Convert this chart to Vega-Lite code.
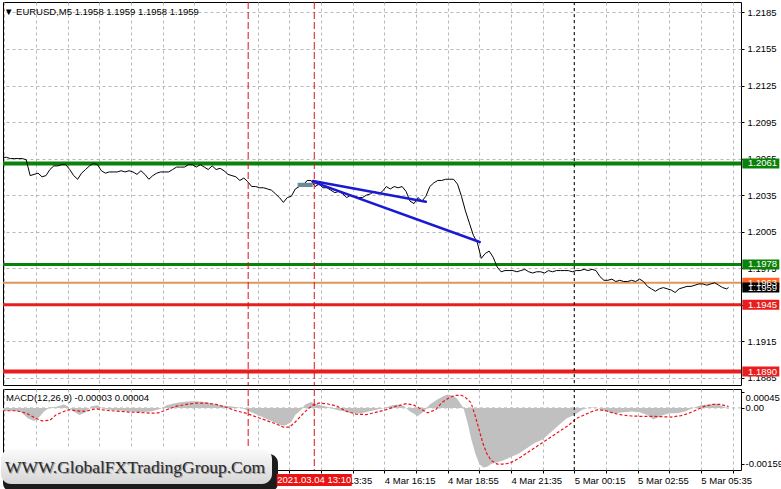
{
  "$schema": "https://vega.github.io/schema/vega-lite/v6.json",
  "padding": {"left": 0, "top": 1, "right": 0, "bottom": 0},
  "background": "white",
  "spacing": 2,
  "datasets": {
    "price": [
      {"m":10,"p":1.2066},{"m":20,"p":1.2066},{"m":30,"p":1.2065},{"m":40,"p":1.2065},{"m":50,"p":1.2065},{"m":60,"p":1.2065},{"m":70,"p":1.2064},{"m":80,"p":1.2051},{"m":90,"p":1.2052},{"m":100,"p":1.2053},
      {"m":110,"p":1.2050},{"m":120,"p":1.2051},{"m":130,"p":1.2056},{"m":140,"p":1.2059},{"m":150,"p":1.2059},{"m":160,"p":1.2060},{"m":170,"p":1.2060},{"m":180,"p":1.2056},{"m":190,"p":1.2051},{"m":200,"p":1.2048},
      {"m":210,"p":1.2053},{"m":220,"p":1.2056},{"m":230,"p":1.2059},{"m":240,"p":1.2061},{"m":250,"p":1.2060},{"m":260,"p":1.2055},{"m":270,"p":1.2053},{"m":280,"p":1.2054},{"m":290,"p":1.2054},{"m":300,"p":1.2054},
      {"m":310,"p":1.2055},{"m":320,"p":1.2054},{"m":330,"p":1.2055},{"m":340,"p":1.2054},{"m":350,"p":1.2052},{"m":360,"p":1.2055},{"m":370,"p":1.2052},{"m":380,"p":1.2048},{"m":390,"p":1.2051},{"m":400,"p":1.2053},
      {"m":410,"p":1.2054},{"m":420,"p":1.2054},{"m":430,"p":1.2054},{"m":440,"p":1.2056},{"m":450,"p":1.2058},{"m":460,"p":1.2058},{"m":470,"p":1.2058},{"m":480,"p":1.2060},{"m":490,"p":1.2060},{"m":500,"p":1.2058},
      {"m":510,"p":1.2060},{"m":520,"p":1.2058},{"m":530,"p":1.2056},{"m":540,"p":1.2059},{"m":550,"p":1.2056},{"m":560,"p":1.2057},{"m":570,"p":1.2055},{"m":580,"p":1.2052},{"m":590,"p":1.2051},{"m":600,"p":1.2050},
      {"m":610,"p":1.2047},{"m":620,"p":1.2049},{"m":630,"p":1.2046},{"m":640,"p":1.2042},{"m":650,"p":1.2042},{"m":660,"p":1.2041},{"m":670,"p":1.2041},{"m":680,"p":1.2040},{"m":690,"p":1.2039},{"m":700,"p":1.2036},
      {"m":710,"p":1.2033},{"m":720,"p":1.2029},{"m":730,"p":1.2033},{"m":740,"p":1.2034},{"m":750,"p":1.2040},{"m":760,"p":1.2042},{"m":770,"p":1.2043},{"m":780,"p":1.2047},{"m":790,"p":1.2047},{"m":800,"p":1.2042},
      {"m":810,"p":1.2044},{"m":820,"p":1.2041},{"m":830,"p":1.2041},{"m":840,"p":1.2039},{"m":850,"p":1.2037},{"m":860,"p":1.2038},{"m":870,"p":1.2036},{"m":880,"p":1.2033},{"m":890,"p":1.2035},{"m":900,"p":1.2034},
      {"m":910,"p":1.2033},{"m":920,"p":1.2033},{"m":930,"p":1.2035},{"m":940,"p":1.2036},{"m":950,"p":1.2038},{"m":960,"p":1.2036},{"m":970,"p":1.2038},{"m":980,"p":1.2042},{"m":990,"p":1.2040},{"m":1000,"p":1.2042},
      {"m":1010,"p":1.2041},{"m":1020,"p":1.2042},{"m":1030,"p":1.2038},{"m":1040,"p":1.2030},{"m":1050,"p":1.2028},{"m":1060,"p":1.2033},{"m":1070,"p":1.2030},{"m":1080,"p":1.2034},{"m":1090,"p":1.2042},{"m":1100,"p":1.2045},
      {"m":1110,"p":1.2047},{"m":1120,"p":1.2047},{"m":1130,"p":1.2048},{"m":1140,"p":1.2048},{"m":1150,"p":1.2048},{"m":1160,"p":1.2044},{"m":1170,"p":1.2034},{"m":1180,"p":1.2022},{"m":1190,"p":1.2012},{"m":1200,"p":1.2002},
      {"m":1210,"p":1.1996},{"m":1220,"p":1.1983},{"m":1230,"p":1.1987},{"m":1240,"p":1.1989},{"m":1250,"p":1.1984},{"m":1260,"p":1.1976},{"m":1270,"p":1.1972},{"m":1280,"p":1.1973},{"m":1290,"p":1.1973},{"m":1300,"p":1.1973},
      {"m":1310,"p":1.1972},{"m":1320,"p":1.1973},{"m":1330,"p":1.1974},{"m":1340,"p":1.1972},{"m":1350,"p":1.1971},{"m":1360,"p":1.1972},{"m":1370,"p":1.1972},{"m":1380,"p":1.1971},{"m":1390,"p":1.1973},{"m":1400,"p":1.1972},
      {"m":1410,"p":1.1973},{"m":1420,"p":1.1973},{"m":1430,"p":1.1973},{"m":1440,"p":1.1973},{"m":1450,"p":1.1972},{"m":1460,"p":1.1973},{"m":1470,"p":1.1973},{"m":1480,"p":1.1974},{"m":1490,"p":1.1973},{"m":1500,"p":1.1974},
      {"m":1510,"p":1.1973},{"m":1520,"p":1.1968},{"m":1530,"p":1.1965},{"m":1540,"p":1.1965},{"m":1550,"p":1.1966},{"m":1560,"p":1.1964},{"m":1570,"p":1.1965},{"m":1580,"p":1.1964},{"m":1590,"p":1.1964},{"m":1600,"p":1.1965},
      {"m":1610,"p":1.1964},{"m":1620,"p":1.1966},{"m":1630,"p":1.1964},{"m":1640,"p":1.1960},{"m":1650,"p":1.1958},{"m":1660,"p":1.1956},{"m":1670,"p":1.1958},{"m":1680,"p":1.1959},{"m":1690,"p":1.1958},{"m":1700,"p":1.1957},
      {"m":1710,"p":1.1955},{"m":1720,"p":1.1958},{"m":1730,"p":1.1959},{"m":1740,"p":1.1960},{"m":1750,"p":1.1960},{"m":1760,"p":1.1961},{"m":1770,"p":1.1962},{"m":1780,"p":1.1962},{"m":1790,"p":1.1961},{"m":1800,"p":1.1962},
      {"m":1810,"p":1.1963},{"m":1820,"p":1.1961},{"m":1830,"p":1.1959},{"m":1840,"p":1.1958},{"m":1845,"p":1.1959}
    ],
    "hist": [
      {"m":10,"h":-0.00008},{"m":30,"h":-0.00008},{"m":55,"h":-0.0001},{"m":75,"h":-0.0003},{"m":90,"h":-0.00037},{"m":100,"h":-0.0003},{"m":115,"h":-0.0001},{"m":130,"h":0.00002},{"m":145,"h":0.00003},{"m":165,"h":0.0001},
      {"m":175,"h":0.00005},{"m":190,"h":-0.0001},{"m":205,"h":-0.0002},{"m":220,"h":-0.00012},{"m":235,"h":0.00005},{"m":250,"h":0.00008},{"m":265,"h":-0.00002},{"m":285,"h":-0.00006},{"m":310,"h":-0.00008},{"m":335,"h":-0.0001},
      {"m":360,"h":-0.00012},{"m":385,"h":-0.0001},{"m":410,"h":-0.00002},{"m":425,"h":0.00008},{"m":440,"h":0.00012},{"m":460,"h":0.00016},{"m":485,"h":0.00019},{"m":510,"h":0.00018},{"m":535,"h":0.00014},{"m":560,"h":0.00008},
      {"m":590,"h":0.00004},{"m":615,"h":0},{"m":635,"h":-0.0001},{"m":655,"h":-0.0002},{"m":675,"h":-0.0003},{"m":695,"h":-0.0004},{"m":715,"h":-0.0005},{"m":725,"h":-0.0005},{"m":740,"h":-0.0004},{"m":750,"h":-0.0002},
      {"m":765,"h":-0.00005},{"m":775,"h":0.0001},{"m":790,"h":0.00017},{"m":800,"h":0.00012},{"m":815,"h":0.00008},{"m":835,"h":0.00002},{"m":855,"h":-0.00006},{"m":875,"h":-0.0001},{"m":895,"h":-0.00015},{"m":915,"h":-0.00016},
      {"m":935,"h":-0.0001},{"m":955,"h":-0.00005},{"m":975,"h":0},{"m":995,"h":0.00008},{"m":1010,"h":0.0001},{"m":1025,"h":0.00005},{"m":1040,"h":-0.0001},{"m":1060,"h":-0.00023},{"m":1075,"h":-0.0001},{"m":1090,"h":0.0001},
      {"m":1110,"h":0.00025},{"m":1125,"h":0.00034},{"m":1135,"h":0.00038},{"m":1150,"h":0.00035},{"m":1160,"h":0.00025},{"m":1175,"h":0},{"m":1185,"h":-0.0004},{"m":1195,"h":-0.0009},{"m":1205,"h":-0.0013},{"m":1215,"h":-0.0016},
      {"m":1225,"h":-0.0017},{"m":1235,"h":-0.00168},{"m":1245,"h":-0.0016},{"m":1260,"h":-0.00155},{"m":1275,"h":-0.0015},{"m":1295,"h":-0.0014},{"m":1315,"h":-0.0013},{"m":1335,"h":-0.00115},{"m":1355,"h":-0.001},{"m":1375,"h":-0.0009},
      {"m":1395,"h":-0.0007},{"m":1415,"h":-0.0005},{"m":1435,"h":-0.0003},{"m":1455,"h":-0.0002},{"m":1475,"h":-0.00005},{"m":1495,"h":0.00002},{"m":1515,"h":0},{"m":1535,"h":-0.0001},{"m":1555,"h":-0.00015},{"m":1580,"h":-0.00012},
      {"m":1600,"h":-0.0001},{"m":1620,"h":-0.00012},{"m":1640,"h":-0.0002},{"m":1655,"h":-0.00033},{"m":1675,"h":-0.00022},{"m":1695,"h":-0.00015},{"m":1715,"h":-0.00015},{"m":1735,"h":-0.0001},{"m":1755,"h":0},{"m":1775,"h":0.00008},
      {"m":1795,"h":0.0001},{"m":1815,"h":0.00012},{"m":1830,"h":0.00005},{"m":1845,"h":-0.00003}
    ],
    "signal": [
      {"m":10,"s":-0.00008},{"m":45,"s":-0.00008},{"m":70,"s":-0.00015},{"m":95,"s":-0.0003},{"m":110,"s":-0.00037},{"m":130,"s":-0.00035},{"m":145,"s":-0.0002},{"m":165,"s":-0.0001},{"m":180,"s":-0.00005},{"m":195,"s":-0.00008},
      {"m":220,"s":-0.0001},{"m":245,"s":-0.00002},{"m":260,"s":-0.00005},{"m":285,"s":-0.00008},{"m":310,"s":-0.0001},{"m":335,"s":-0.00012},{"m":360,"s":-0.00013},{"m":385,"s":-0.00015},{"m":405,"s":-0.00014},{"m":425,"s":-0.00005},
      {"m":450,"s":0.00005},{"m":475,"s":0.0001},{"m":500,"s":0.00014},{"m":525,"s":0.00014},{"m":550,"s":0.0001},{"m":575,"s":0.00002},{"m":600,"s":-0.00008},{"m":625,"s":-0.00015},{"m":650,"s":-0.00025},{"m":675,"s":-0.00035},
      {"m":700,"s":-0.00045},{"m":720,"s":-0.00055},{"m":735,"s":-0.00055},{"m":750,"s":-0.0004},{"m":765,"s":-0.00022},{"m":780,"s":-0.00005},{"m":795,"s":0.00008},{"m":810,"s":0.00014},{"m":830,"s":0.00012},{"m":855,"s":0.00005},
      {"m":880,"s":-0.0001},{"m":905,"s":-0.00018},{"m":930,"s":-0.00019},{"m":955,"s":-0.00012},{"m":980,"s":-0.00005},{"m":1005,"s":0.00005},{"m":1030,"s":0.00012},{"m":1050,"s":0.00008},{"m":1070,"s":-0.00005},{"m":1085,"s":-0.00014},
      {"m":1105,"s":-0.00005},{"m":1120,"s":0.00015},{"m":1140,"s":0.0003},{"m":1155,"s":0.00036},{"m":1170,"s":0.00036},{"m":1180,"s":0.0003},{"m":1194,"s":0.00015},{"m":1204,"s":-0.0002},{"m":1214,"s":-0.0006},{"m":1224,"s":-0.001},
      {"m":1234,"s":-0.0013},{"m":1245,"s":-0.0015},{"m":1260,"s":-0.0016},{"m":1275,"s":-0.0016},{"m":1290,"s":-0.00158},{"m":1305,"s":-0.0015},{"m":1320,"s":-0.0014},{"m":1340,"s":-0.00125},{"m":1360,"s":-0.0011},{"m":1380,"s":-0.00095},
      {"m":1400,"s":-0.0008},{"m":1420,"s":-0.00065},{"m":1440,"s":-0.0005},{"m":1460,"s":-0.0003},{"m":1480,"s":-0.0002},{"m":1500,"s":-0.0001},{"m":1515,"s":-0.00005},{"m":1535,"s":-0.00008},{"m":1555,"s":-0.00015},{"m":1575,"s":-0.0002},
      {"m":1600,"s":-0.00023},{"m":1625,"s":-0.00024},{"m":1650,"s":-0.00024},{"m":1675,"s":-0.00025},{"m":1700,"s":-0.00026},{"m":1725,"s":-0.00022},{"m":1745,"s":-0.00015},{"m":1765,"s":-0.00005},{"m":1785,"s":0.00005},{"m":1805,"s":0.0001},
      {"m":1825,"s":0.0001},{"m":1845,"s":0.00004}
    ],
    "trend": [
      {"id":"a","m":795,"p":1.20466},{"id":"a","m":1080,"p":1.20296},
      {"id":"b","m":795,"p":1.20458},{"id":"b","m":1216,"p":1.19965}
    ],
    "obj": [{"m1":756,"m2":794,"p1":1.20451,"p2":1.20416}],
    "boxes": [
      {"p":1.2061,"label":"1.2061","kind":"buy","type":"target"},
      {"p":1.1978,"label":"1.1978","kind":"buy","type":"entry"},
      {"p":1.1945,"label":"1.1945","kind":"sell","type":"entry"},
      {"p":1.1890,"label":"1.1890","kind":"sell","type":"target"},
      {"p":1.1963,"label":"1.1963","kind":"ask","type":"quote"},
      {"p":1.1959,"label":"1.1959","kind":"bid","type":"quote"}
    ],
    "vlines": [
      {"m":631,"kind":"cross"},{"m":798,"kind":"cross"},{"m":1455,"kind":"sep"}
    ]
  },
  "vconcat": [
    {
      "width": 738,
      "height": 383,
      "title": {"text": "▼ EURUSD,M5 1.1958 1.1959 1.1958 1.1959", "anchor": "start", "offset": -15, "dx": 3, "fontSize": 9.5, "font": "Liberation Sans", "fontWeight": "normal", "color": "#000000"},
      "layer": [
        {
          "data": {"name": "price"},
          "mark": {"type": "line", "color": "#000000", "strokeWidth": 1, "clip": true, "opacity": 0},
          "encoding": {
            "x": {"field": "m", "type": "quantitative",
              "scale": {"domain": [11.4, 1876.4], "nice": false, "zero": false},
              "axis": {"values": [15,95,175,255,335,415,495,575,655,735,815,895,975,1055,1135,1215,1295,1375,1455,1535,1615,1695,1775,1855], "tickCount": 60, "labels": false, "ticks": false, "domain": false, "grid": true, "gridDash": [3, 3], "gridColor": "#b8b8b8", "title": null}},
            "y": {"field": "p", "type": "quantitative",
              "scale": {"domain": [1.1879, 1.21936], "nice": false, "zero": false},
              "axis": {"orient": "right", "values": [1.1885, 1.1915, 1.1945, 1.1975, 1.2005, 1.2035, 1.2065, 1.2095, 1.2125, 1.2155, 1.2185], "tickCount": 40, "format": ".4f", "labelOverlap": false, "grid": true, "gridDash": [3, 3], "gridColor": "#b8b8b8", "tickSize": 3, "labelPadding": 3, "domain": false, "title": null}}
          }
        },
        {
          "data": {"name": "boxes"},
          "transform": [{"filter": "datum.kind != 'bid'"}],
          "mark": {"type": "rule"},
          "encoding": {
            "y": {"field": "p", "type": "quantitative"},
            "color": {"field": "kind", "type": "nominal", "scale": {"domain": ["buy", "sell", "ask", "bid"], "range": ["#0a820a", "#e81e1e", "#e0955a", "#000000"]}, "legend": null},
            "strokeWidth": {"field": "type", "type": "nominal", "scale": {"domain": ["target", "entry", "quote"], "range": [4, 2, 1]}, "legend": null}
          }
        },
        {
          "data": {"name": "price"},
          "mark": {"type": "line", "color": "#000000", "strokeWidth": 1, "clip": true},
          "encoding": {
            "x": {"field": "m", "type": "quantitative"},
            "y": {"field": "p", "type": "quantitative"}
          }
        },
        {
          "data": {"name": "obj"},
          "mark": {"type": "rect", "color": "#6a8a99"},
          "encoding": {
            "x": {"field": "m1", "type": "quantitative"},
            "x2": {"field": "m2"},
            "y": {"field": "p1", "type": "quantitative"},
            "y2": {"field": "p2"}
          }
        },
        {
          "data": {"name": "trend"},
          "mark": {"type": "line", "color": "#1a1ad2", "strokeWidth": 2.5, "strokeCap": "round"},
          "encoding": {
            "x": {"field": "m", "type": "quantitative"},
            "y": {"field": "p", "type": "quantitative"},
            "detail": {"field": "id"}
          }
        },
        {
          "data": {"name": "vlines"},
          "transform": [{"filter": "datum.kind == 'cross'"}],
          "mark": {"type": "rule", "color": "#d8141e", "strokeDash": [7, 3], "strokeWidth": 1},
          "encoding": {"x": {"field": "m", "type": "quantitative"}}
        },
        {
          "data": {"name": "vlines"},
          "transform": [{"filter": "datum.kind == 'sep'"}],
          "mark": {"type": "rule", "color": "#000000", "strokeDash": [3, 3], "strokeWidth": 1},
          "encoding": {"x": {"field": "m", "type": "quantitative"}}
        },
        {
          "data": {"name": "boxes"},
          "mark": {"type": "tick", "orient": "horizontal", "size": 37, "thickness": 10, "opacity": 1},
          "encoding": {
            "x": {"datum": 1926.5, "type": "quantitative"},
            "y": {"field": "p", "type": "quantitative"},
            "color": {"field": "kind", "type": "nominal", "scale": {"domain": ["buy", "sell", "ask", "bid"], "range": ["#0a820a", "#e81e1e", "#ff6420", "#000000"]}, "legend": null}
          }
        },
        {
          "data": {"name": "boxes"},
          "mark": {"type": "text", "align": "left", "baseline": "middle", "color": "#ffffff", "fontSize": 9.5, "font": "Liberation Sans"},
          "encoding": {
            "x": {"datum": 1894, "type": "quantitative"},
            "y": {"field": "p", "type": "quantitative"},
            "text": {"field": "label"}
          }
        }
      ],
      "resolve": {"scale": {"color": "independent"}}
    },
    {
      "width": 738,
      "height": 81,
      "title": {"text": "MACD(12,26,9) -0.00003 0.00004", "anchor": "start", "offset": -14, "dx": 5, "fontSize": 9.5, "font": "Liberation Sans", "fontWeight": "normal", "color": "#000000"},
      "layer": [
        {
          "data": {"values": [{}]},
          "mark": {"type": "rule", "color": "#b4b4b4", "strokeDash": [3, 3], "strokeWidth": 1},
          "encoding": {"y": {"datum": 0, "type": "quantitative"}}
        },
        {
          "data": {"name": "hist"},
          "mark": {"type": "area", "color": "#c0c0c0", "opacity": 1, "clip": true},
          "encoding": {
            "x": {"field": "m", "type": "quantitative",
              "scale": {"domain": [11.4, 1876.4], "nice": false, "zero": false},
              "axis": {"values": [15,95,175,255,335,415,495,575,655,735,815,895,975,1055,1135,1215,1295,1375,1455,1535,1615,1695,1775,1855], "tickCount": 60,
                "labelExpr": "(datum.value - 15) % 160 == 0 ? timeFormat(datetime(2021, 2, 4, 0, datum.value), '%-d %b %H:%M') : ''",
                "labelAlign": "left", "labelBaseline": "top", "labelPadding": 2, "tickSize": 3, "labelOverlap": false, "labelFlush": false, "labelBound": false,
                "grid": true, "gridDash": [3, 3], "gridColor": "#b8b8b8", "domain": false, "title": null}},
            "y": {"field": "h", "type": "quantitative",
              "scale": {"domain": [-0.00177, 0.00054], "nice": false, "zero": false},
              "axis": {"orient": "right", "values": [0.00045, 0, -0.00159], "tickCount": 10,
                "labelExpr": "datum.value > 0.0003 ? '0.00045' : (datum.value < -0.001 ? '-0.00159' : '0.00')",
                "labelBaseline": {"condition": {"test": "datum.value > 0.0003", "value": "top"}, "value": "middle"},
                "labelOverlap": false, "grid": false, "tickSize": 3, "labelPadding": 1, "domain": false, "title": null}},
            "y2": {"datum": 0}
          }
        },
        {
          "data": {"name": "signal"},
          "mark": {"type": "line", "color": "#e8141e", "strokeDash": [3, 2], "strokeWidth": 1.2, "clip": true},
          "encoding": {
            "x": {"field": "m", "type": "quantitative"},
            "y": {"field": "s", "type": "quantitative"}
          }
        },
        {
          "data": {"name": "vlines"},
          "transform": [{"filter": "datum.kind == 'cross'"}],
          "mark": {"type": "rule", "color": "#d8141e", "strokeDash": [7, 3], "strokeWidth": 1},
          "encoding": {"x": {"field": "m", "type": "quantitative"}}
        },
        {
          "data": {"name": "vlines"},
          "transform": [{"filter": "datum.kind == 'sep'"}],
          "mark": {"type": "rule", "color": "#000000", "strokeDash": [3, 3], "strokeWidth": 1},
          "encoding": {"x": {"field": "m", "type": "quantitative"}}
        },
        {
          "data": {"values": [{}]},
          "mark": {"type": "rect", "color": "#1c1c1c", "cornerRadius": 9},
          "encoding": {
            "x": {"datum": 11.4, "type": "quantitative"},
            "x2": {"datum": 706.3},
            "y": {"datum": -0.001313, "type": "quantitative"},
            "y2": {"datum": -0.002397}
          }
        },
        {
          "data": {"values": [{}]},
          "mark": {"type": "rect", "cornerRadius": 10, "color": {"gradient": "linear", "x1": 0, "y1": 0, "x2": 0, "y2": 1, "stops": [{"offset": 0, "color": "#fbfbfb"}, {"offset": 1, "color": "#d6d6d6"}]}},
          "encoding": {
            "x": {"datum": 6.3, "type": "quantitative"},
            "x2": {"datum": 691.2},
            "y": {"datum": -0.001171, "type": "quantitative"},
            "y2": {"datum": -0.002169}
          }
        },
        {
          "data": {"values": [{"t": "WWW.GlobalFXTradingGroup.Com"}]},
          "mark": {"type": "text", "font": "Liberation Serif", "fontSize": 17.5, "color": "#9a9a9a", "align": "center", "baseline": "middle", "dx": 1, "dy": 1},
          "encoding": {
            "x": {"datum": 345, "type": "quantitative"},
            "y": {"datum": -0.001713, "type": "quantitative"},
            "text": {"field": "t"}
          }
        },
        {
          "data": {"values": [{"t": "WWW.GlobalFXTradingGroup.Com"}]},
          "mark": {"type": "text", "font": "Liberation Serif", "fontSize": 17.5, "color": "#2a2a2a", "align": "center", "baseline": "middle"},
          "encoding": {
            "x": {"datum": 345, "type": "quantitative"},
            "y": {"datum": -0.001713, "type": "quantitative"},
            "text": {"field": "t"}
          }
        },
        {
          "data": {"values": [{"t": "2021.03.04 13:10"}]},
          "mark": {"type": "tick", "orient": "horizontal", "size": 75, "thickness": 12, "opacity": 1, "color": "#e81414"},
          "encoding": {
            "x": {"datum": 798, "type": "quantitative"},
            "y": {"datum": -0.002055, "type": "quantitative"}
          }
        },
        {
          "data": {"values": [{"t": "2021.03.04 13:10"}]},
          "mark": {"type": "text", "align": "center", "baseline": "middle", "color": "#ffffff", "fontSize": 9.5, "font": "Liberation Sans"},
          "encoding": {
            "x": {"datum": 798, "type": "quantitative"},
            "y": {"datum": -0.002055, "type": "quantitative"},
            "text": {"field": "t"}
          }
        }
      ]
    }
  ],
  "config": {
    "view": {"stroke": "#000000", "strokeWidth": 1},
    "axis": {"labelFont": "Liberation Sans", "labelFontSize": 9.5, "labelColor": "#000000", "tickColor": "#000000", "domain": false},
    "text": {"font": "Liberation Sans"}
  }
}
